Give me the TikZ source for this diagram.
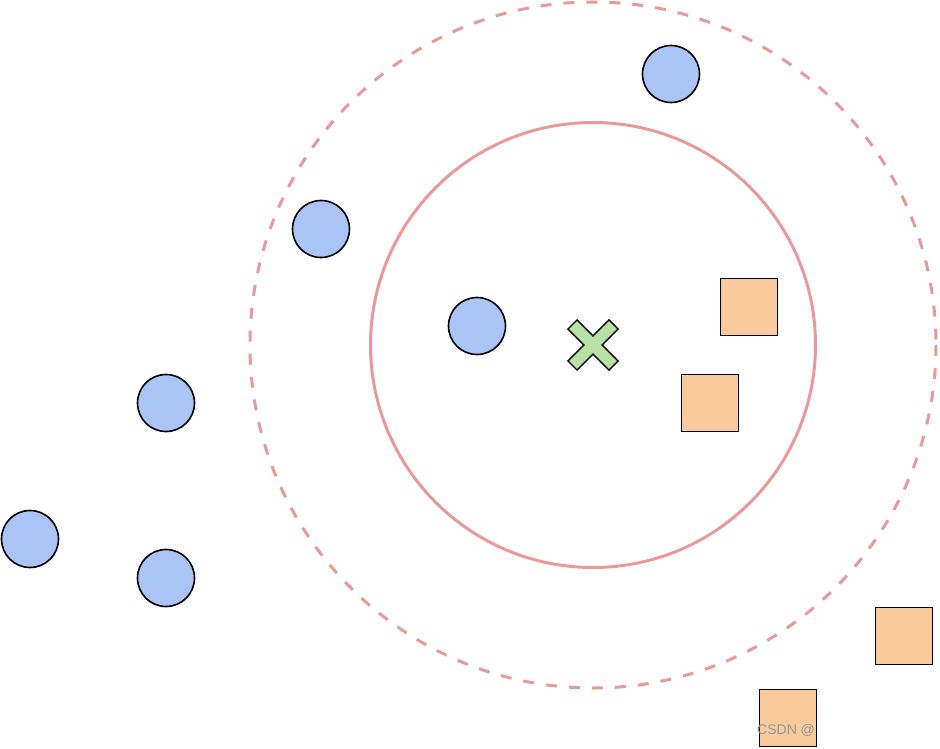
\documentclass[tikz,border=0pt]{standalone}
\usepackage{fontspec}
\setmainfont{Liberation Sans}
\definecolor{bluef}{HTML}{A9C4F5}
\definecolor{orangef}{HTML}{F9CB9C}
\definecolor{greenf}{HTML}{B9E0A5}
\definecolor{ringc}{HTML}{EA9999}
\begin{document}
\begin{tikzpicture}[x=1pt,y=-1pt,
  dot/.style={circle,draw=black,fill=bluef,line width=1.6pt,minimum size=57pt,inner sep=0pt},
  sq/.style={rectangle,draw=black,fill=orangef,line width=1.6pt,minimum size=57pt,inner sep=0pt},
  ring/.style={draw=ringc,line width=3pt}]
\useasboundingbox (0,0) rectangle (940,749);
\draw[ring,dash pattern=on 11pt off 12pt] (593,345) circle[radius=343];
\draw[ring] (593,345) circle[radius=222.5];
\node[dot] (b1) at (671,74) {};
\node[dot] (b2) at (321,229) {};
\node[dot] (b3) at (477,326) {};
\node[dot] (b4) at (166,403) {};
\node[dot] (b5) at (30,539) {};
\node[dot] (b6) at (166,578) {};
\node[sq] (s1) at (749,307) {};
\node[sq] (s2) at (710,403) {};
\node[sq] (s3) at (904,636) {};
\node[sq] (s4) at (788,718) {};
\coordinate (c) at (593,345);
\draw[fill=greenf,line width=1.4pt,shift={(593,345)},rotate=45]
  (6.5,6.5) -- (29,6.5) -- (29,-6.5) -- (6.5,-6.5) -- (6.5,-29) -- (-6.5,-29) -- (-6.5,-6.5) -- (-29,-6.5)
  -- (-29,6.5) -- (-6.5,6.5) -- (-6.5,29) -- (6.5,29) -- cycle;
\begin{scope}
\clip (740,700) rectangle (820,749);
\node[text=black!40,font=\fontsize{14}{14}\selectfont,anchor=west,inner sep=0pt] (wm) at (757,730) {CSDN @};
\end{scope}
\end{tikzpicture}
\end{document}
